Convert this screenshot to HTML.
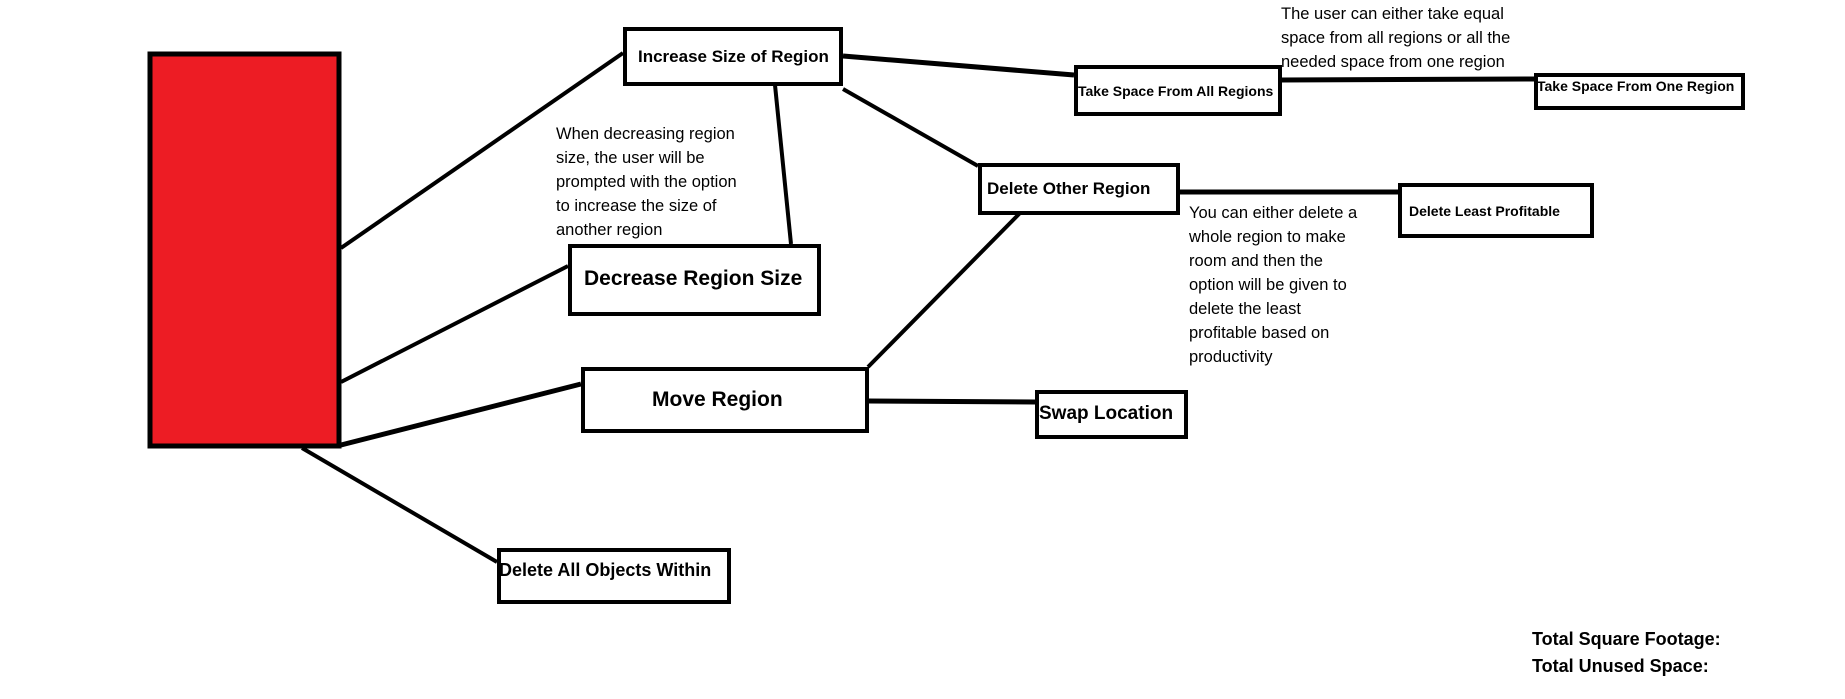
<!DOCTYPE html>
<html><head><style>
body{margin:0;background:#fff;}
svg{display:block;}
text{font-family:"Liberation Sans",sans-serif;}
.b{font-weight:bold;}
</style></head><body>
<svg width="1845" height="699" viewBox="0 0 1845 699" xmlns="http://www.w3.org/2000/svg">
<g stroke="#000" stroke-width="4" fill="none">
<line x1="341" y1="248" x2="623" y2="53"/>
<line x1="341" y1="382" x2="568" y2="266"/>
<line x1="341" y1="445" x2="581" y2="384" stroke-width="5"/>
<line x1="302" y1="448" x2="497" y2="562"/>
<line x1="843" y1="56" x2="1074" y2="75" stroke-width="5"/>
<line x1="775" y1="85" x2="791" y2="244"/>
<line x1="843" y1="89" x2="978" y2="166"/>
<line x1="1281" y1="80" x2="1534" y2="79" stroke-width="5"/>
<line x1="1180" y1="192" x2="1398" y2="192" stroke-width="5"/>
<line x1="1020" y1="213" x2="868" y2="367"/>
<line x1="868" y1="401" x2="1035" y2="402" stroke-width="5"/>
</g>
<rect x="150" y="54" width="189" height="392" fill="#ed1c24" stroke="#000" stroke-width="5"/>
<g fill="#fff" stroke="#000" stroke-width="4">
<rect x="625" y="29" width="216" height="55"/>
<rect x="1076" y="67" width="204" height="47"/>
<rect x="1536" y="75" width="207" height="33"/>
<rect x="980" y="165" width="198" height="48"/>
<rect x="1400" y="185" width="192" height="51"/>
<rect x="570" y="246" width="249" height="68"/>
<rect x="583" y="369" width="284" height="62"/>
<rect x="1037" y="392" width="149" height="45"/>
<rect x="499" y="550" width="230" height="52"/>
</g>
<g class="b" fill="#000">
<text x="638" y="62" font-size="17" class="b">Increase Size of Region</text>
<text x="1078" y="96" font-size="14" class="b">Take Space From All Regions</text>
<text x="1537" y="91" font-size="14" class="b">Take Space From One Region</text>
<text x="987" y="194" font-size="17" class="b">Delete Other Region</text>
<text x="1409" y="216" font-size="14" class="b">Delete Least Profitable</text>
<text x="584" y="285" font-size="21" class="b">Decrease Region Size</text>
<text x="652" y="406" font-size="21" class="b">Move Region</text>
<text x="1039" y="419" font-size="19" class="b">Swap Location</text>
<text x="499" y="576" font-size="18" class="b">Delete All Objects Within</text>
<text x="1532" y="645" font-size="18" class="b">Total Square Footage:</text>
<text x="1532" y="672" font-size="18" class="b">Total Unused Space:</text>
</g>
<g fill="#000" font-size="16.5">
<text x="1281" y="19">The user can either take equal</text>
<text x="1281" y="43">space from all regions or all the</text>
<text x="1281" y="67">needed space from one region</text>
<text x="556" y="139">When decreasing region</text>
<text x="556" y="163">size, the user will be</text>
<text x="556" y="187">prompted with the option</text>
<text x="556" y="211">to increase the size of</text>
<text x="556" y="235">another region</text>
<text x="1189" y="218">You can either delete a</text>
<text x="1189" y="242">whole region to make</text>
<text x="1189" y="266">room and then the</text>
<text x="1189" y="290">option will be given to</text>
<text x="1189" y="314">delete the least</text>
<text x="1189" y="338">profitable based on</text>
<text x="1189" y="362">productivity</text>
</g>
</svg>
</body></html>
